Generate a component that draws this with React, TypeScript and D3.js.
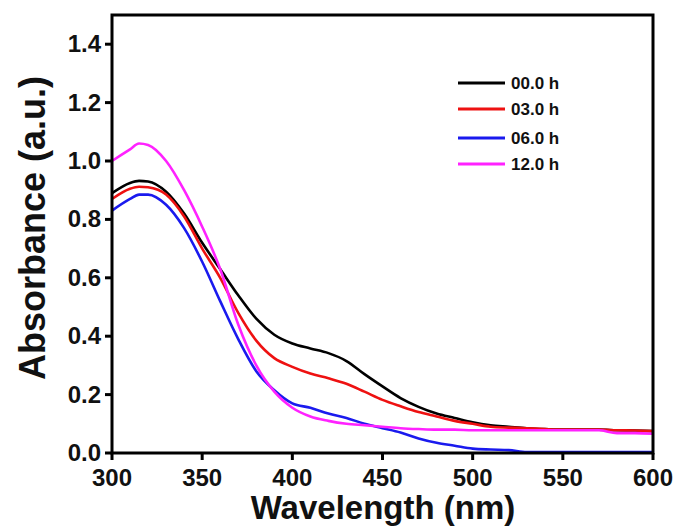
import React from "react";
import * as d3 from "d3";

const wavelengths = [300, 310, 315, 320, 330, 340, 350, 360, 370, 380, 390, 400, 410, 420, 430, 440, 450, 460, 470, 480, 490, 500, 510, 520, 530, 540, 550, 560, 570, 580, 590, 600];
const h00 = [0.89, 0.925, 0.932, 0.93, 0.895, 0.82, 0.72, 0.63, 0.54, 0.46, 0.405, 0.375, 0.358, 0.342, 0.315, 0.27, 0.228, 0.188, 0.158, 0.135, 0.12, 0.105, 0.095, 0.09, 0.085, 0.082, 0.08, 0.08, 0.08, 0.078, 0.077, 0.075];
const h03 = [0.87, 0.905, 0.912, 0.91, 0.885, 0.81, 0.7, 0.6, 0.48, 0.385, 0.325, 0.295, 0.272, 0.256, 0.237, 0.21, 0.182, 0.16, 0.14, 0.125, 0.11, 0.1, 0.09, 0.087, 0.085, 0.082, 0.08, 0.08, 0.08, 0.078, 0.077, 0.075];
const h06 = [0.83, 0.87, 0.885, 0.885, 0.85, 0.77, 0.655, 0.52, 0.39, 0.28, 0.215, 0.17, 0.155, 0.135, 0.12, 0.1, 0.085, 0.07, 0.05, 0.035, 0.025, 0.015, 0.012, 0.01, 0.003, 0.003, 0.003, 0.003, 0.003, 0.003, 0.003, 0.003];
const h12 = [1.0, 1.04, 1.06, 1.055, 1.0, 0.9, 0.775, 0.63, 0.44, 0.3, 0.21, 0.155, 0.125, 0.11, 0.1, 0.095, 0.09, 0.085, 0.082, 0.08, 0.08, 0.078, 0.078, 0.078, 0.078, 0.078, 0.078, 0.078, 0.078, 0.068, 0.068, 0.066];
const seriesNames = ["00.0 h", "03.0 h", "06.0 h", "12.0 h"];
const seriesColors = ["#000000", "#ee1111", "#1a1aee", "#ff22ff"];
const xTicks = [300, 350, 400, 450, 500, 550, 600];
const yTicks = [0.0, 0.2, 0.4, 0.6, 0.8, 1.0, 1.2, 1.4];

export default function App() {
  const W = 678, H = 529;
  const L = 112, R = 653, T = 15, B = 453;
  const x = d3.scaleLinear().domain([300, 600]).range([L, R]);
  const y = d3.scaleLinear().domain([0, 1.5]).range([B, T]);
  const all = [h00, h03, h06, h12];
  const line = d3
    .line<number>()
    .x((_, i) => x(wavelengths[i]))
    .y((v) => y(v))
    .curve(d3.curveMonotoneX);
  const font = "'Liberation Sans', Arial, sans-serif";
  return (
    <svg width={W} height={H} style={{ position: "absolute", left: 0, top: 0, background: "#fff" }} fontFamily={font}>
      <rect width={W} height={H} fill="#fff" />
      {all.map((s, i) => (
        <path key={i} d={line(s) || ""} fill="none" stroke={seriesColors[i]} strokeWidth={2.6} strokeLinejoin="round" />
      ))}
      <rect x={L} y={T} width={R - L} height={B - T} fill="none" stroke="#000" strokeWidth={3} />
      {xTicks.map((t) => (
        <g key={t}>
          <line x1={x(t)} x2={x(t)} y1={B} y2={B + 7} stroke="#000" strokeWidth={3} />
          <text x={x(t)} y={486} textAnchor="middle" fontSize={24} fontWeight="bold" fill="#111">{t}</text>
        </g>
      ))}
      {yTicks.map((t) => (
        <g key={t}>
          <line x1={L - 7} x2={L} y1={y(t)} y2={y(t)} stroke="#000" strokeWidth={3} />
          <text x={101} y={y(t) + 8} textAnchor="end" fontSize={24} fontWeight="bold" fill="#111">{t.toFixed(1)}</text>
        </g>
      ))}
      <text x={383} y={519} textAnchor="middle" fontSize={33} fontWeight="bold" fill="#111">Wavelength (nm)</text>
      <text transform={`translate(45,228) rotate(-90)`} textAnchor="middle" fontSize={36} fontWeight="bold" fill="#111">Absorbance (a.u.)</text>
      {seriesNames.map((n, i) => {
        const ly = [83, 109, 138, 164][i];
        return (
          <g key={n}>
            <line x1={458} x2={505} y1={ly} y2={ly} stroke={seriesColors[i]} strokeWidth={3} />
            <text x={511} y={ly + 6} fontSize={17} fontWeight="bold" fill="#111">{n}</text>
          </g>
        );
      })}
    </svg>
  );
}
